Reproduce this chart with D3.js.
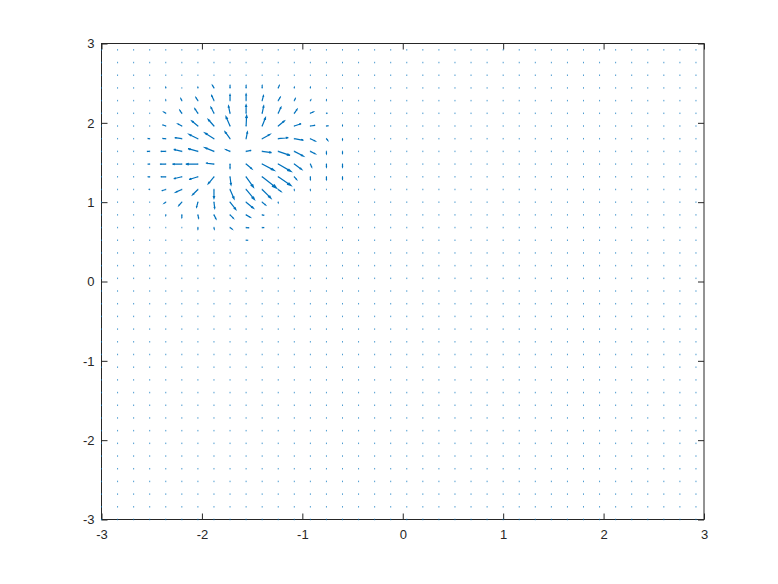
<!DOCTYPE html>
<html>
<head>
<meta charset="utf-8">
<script src="https://cdn.jsdelivr.net/npm/d3@7/dist/d3.min.js"></script>
<style>
  body { margin: 0; background: #fff; }
  svg text { font-family: "Liberation Sans", Arial, Helvetica, sans-serif; font-size: 13px; fill: #262626; }
</style>
</head>
<body>
<script>
/** Declare constants */
const width = 778;
const height = 584;
const margin = { left: 101.5, right: 74, top: 43.5, bottom: 64.5 };
const blue = "#0072bd";
const axisColor = "#262626";

// tick labels
const xTicks = [-3, -2, -1, 0, 1, 2, 3];
const yTicks = [-3, -2, -1, 0, 1, 2, 3];

// meshgrid -3:0.16:3 (38 points each way)
const gridX = d3.range(38).map((i) => -3 + 0.16 * i);
const gridY = d3.range(38).map((i) => -3 + 0.16 * i);

// the part of the grid where the field is not ~0 (indices into gridX / gridY)
const winCols = [3, 4, 5, 6, 7, 8, 9, 10, 11, 12, 13, 14, 15];
const winRows = [34, 33, 32, 31, 30, 29, 28, 27, 26, 25, 24, 23, 22];

// field components, one row per winRows entry
const U = [
  [0, 0, 0, 0, -1.5, 0, 0, 0, 1, 0, 0, 0, 0],
  [0, 0, -1, -2, -2.3, 0, 0, 1.3, 2, 1, 0.3, 0, 0],
  [0, -1.7, -2, -3, -3, -1.5, 0, 1.5, 2.7, 2.7, 2.7, 1, 0],
  [0, -3.3, -3.7, -6, -5.7, -4, 0.5, 3.3, 6, 6.7, 4.7, 2, 0],
  [-2, -3.3, -7, -8.7, -9, -5, 1.3, 7.7, 10, 9, 4.7, 1.3, 0],
  [-2.7, -5, -8, -9.7, -9, -4, 5, 9.3, 11.7, 9, 4.7, 0, 0],
  [-2, -5.7, -9.3, -12, -8, 0, 5.7, 12, 12.7, 7.3, 1.3, 0, 0],
  [-2, -5, -8, -8.7, -5.7, 1, 7.3, 14.3, 12.7, 2.3, 0, 0, 0],
  [-1, -4, -6, -5.3, 0, 4, 8.3, 8.7, 2.7, 0, 0, 0, 0],
  [0, -1.5, -3, -1.3, 0.7, 5.7, 7.3, 3.3, 0, 0, 0, 0, 0],
  [0, 0, 0, 0.7, 2, 3.3, 4, 2, 0, 0, 0, 0, 0],
  [0, 0, 0, 0, 0.3, 2, 3, 2, 0, 0, 0, 0, 0],
  [0, 0, 0, 0, 0, 0, 2, 0.5, 0, 0, 0, 0, 0]
];
const V = [
  [0, 0.6, 0, 0.6, 3.2, 2.9, 2.9, 2.9, 2.9, 0.6, 0.6, 0, 0],
  [0, 0.6, 2.5, 3.8, 6.3, 7.6, 8.2, 6.3, 4.2, 2.5, 0.6, 0.6, 0],
  [0, 1.3, 3.8, 5.7, 7.6, 9.2, 10.5, 9.2, 7.6, 5, 1.6, 0.4, 0],
  [0, 1.6, 2.5, 6.3, 8.2, 11.7, 13.2, 10.5, 6.3, 2.9, 0.9, 0.4, 0.6],
  [0.4, 0.4, 1.3, 5.4, 7.2, 8.8, 8.4, 5.4, 1.3, -2.1, -2.9, -2.1, -1.3],
  [0, 0, 2.5, 3.4, 4.7, 2.1, 1.3, -1.6, -5, -5.9, -2.9, -2.9, -2.5],
  [0, 0, 0, 0, 1.3, -5.4, -5.9, -7.9, -9.2, -6.7, -3.8, -3.8, -3.8],
  [0, 0, -2.5, -3.4, -8.8, -10.1, -13, -14.2, -11, -3.4, -3.4, -3.4, -2.9],
  [0, -1.6, -3.4, -6.7, -11, -11.7, -12.6, -11, -2.5, -0.6, -0.6, 0, 0],
  [0, -1.3, -4.2, -6.3, -7.6, -9.2, -7.6, -3.4, -0.6, 0, 0, 0, 0],
  [0, -0.6, -3.4, -4.2, -5, -4.2, -2.9, -0.6, 0, 0, 0, 0, 0],
  [0, 0, 0, -1.9, -1.9, -1.9, -0.4, 0, 0, 0, 0, 0, 0],
  [0, 0, 0, 0, 0, 0, 0, 0, 0, 0, 0, 0, 0]
];

const arrowScale = 0.01; // quiver autoscale
const arrowSize = 0.25;  // head length as part of the arrow

/** Declare variables */
var svg, x_scale, y_scale;
var vectors = [];

function buildVectors() {
  gridY.forEach((yv, j) => {
    gridX.forEach((xv, k) => {
      const r = winRows.indexOf(j);
      const c = winCols.indexOf(k);
      let u = 0, v = 0;
      if (r >= 0 && c >= 0) {
        u = U[r][c];
        v = V[r][c];
      }
      vectors.push({ x: xv, y: yv, u: u, v: v });
    });
  });
}

function generateScale() {
  x_scale = d3.scaleLinear().domain([-3, 3]).range([margin.left, width - margin.right]);
  y_scale = d3.scaleLinear().domain([-3, 3]).range([height - margin.bottom, margin.top]);
}

function generateAxis() {
  const b = height - margin.bottom;
  const r = width - margin.right;
  const fmt = (d) => String(d); // plain hyphen minus like octave

  const g1 = svg.append("g").attr("transform", "translate(0," + b + ")")
    .call(d3.axisBottom(x_scale).tickValues(xTicks).tickFormat(fmt).tickSizeInner(-6).tickSizeOuter(0).tickPadding(10));
  const g2 = svg.append("g").attr("transform", "translate(" + margin.left + ",0)")
    .call(d3.axisLeft(y_scale).tickValues(yTicks).tickFormat(fmt).tickSizeInner(-6).tickSizeOuter(0).tickPadding(7));
  const g3 = svg.append("g").attr("transform", "translate(0," + margin.top + ")")
    .call(d3.axisTop(x_scale).tickValues(xTicks).tickSizeInner(-6).tickSizeOuter(0).tickFormat(""));
  const g4 = svg.append("g").attr("transform", "translate(" + r + ",0)")
    .call(d3.axisRight(y_scale).tickValues(yTicks).tickSizeInner(-6).tickSizeOuter(0).tickFormat(""));

  [g1, g2, g3, g4].forEach((g) => {
    g.select(".domain").remove();
    g.selectAll("line").attr("stroke", axisColor).attr("stroke-width", 1);
    g.selectAll("text").attr("fill", axisColor).style("font-size", "13px");
  });

  svg.append("rect")
    .attr("x", margin.left)
    .attr("y", margin.top)
    .attr("width", r - margin.left)
    .attr("height", b - margin.top)
    .attr("fill", "none")
    .attr("stroke", axisColor)
    .attr("stroke-width", 1);
}

function arrowPath(d) {
  const u = d.u * arrowScale, v = d.v * arrowScale;
  const x0 = d.x, y0 = d.y;
  const x1 = x0 + u, y1 = y0 + v;
  const xt = x0 + u * (1 - arrowSize), yt = y0 + v * (1 - arrowSize);
  // head wings, computed in data units like octave does
  const ax1 = xt + (y0 - yt) * arrowSize / 2.5, ay1 = yt - (x0 - xt) * arrowSize / 2.5;
  const ax2 = xt - (y0 - yt) * arrowSize / 2.5, ay2 = yt + (x0 - xt) * arrowSize / 2.5;
  return "M" + x_scale(x0) + "," + y_scale(y0) +
    "L" + x_scale(x1) + "," + y_scale(y1) +
    "M" + x_scale(ax1) + "," + y_scale(ay1) +
    "L" + x_scale(x1) + "," + y_scale(y1) +
    "L" + x_scale(ax2) + "," + y_scale(ay2);
}

function generateArrows() {
  // every grid point shows at least a speck
  svg.append("g").selectAll("rect")
    .data(vectors)
    .enter()
    .append("rect")
    .attr("x", (d) => x_scale(d.x) - 0.5)
    .attr("y", (d) => y_scale(d.y) - 0.75)
    .attr("width", 1)
    .attr("height", 1.5)
    .attr("fill", blue)
    .attr("opacity", 0.7);

  svg.append("g").selectAll("path")
    .data(vectors.filter((d) => d.u !== 0 || d.v !== 0))
    .enter()
    .append("path")
    .attr("d", arrowPath)
    .attr("fill", "none")
    .attr("stroke", blue)
    .attr("stroke-width", 1.2)
    .attr("stroke-linejoin", "miter");
}

document.addEventListener("DOMContentLoaded", function () {
  svg = d3.select("body")
    .append("svg")
    .attr("width", width)
    .attr("height", height);
  buildVectors();
  generateScale();
  generateAxis();
  generateArrows();
});
</script>
</body>
</html>
